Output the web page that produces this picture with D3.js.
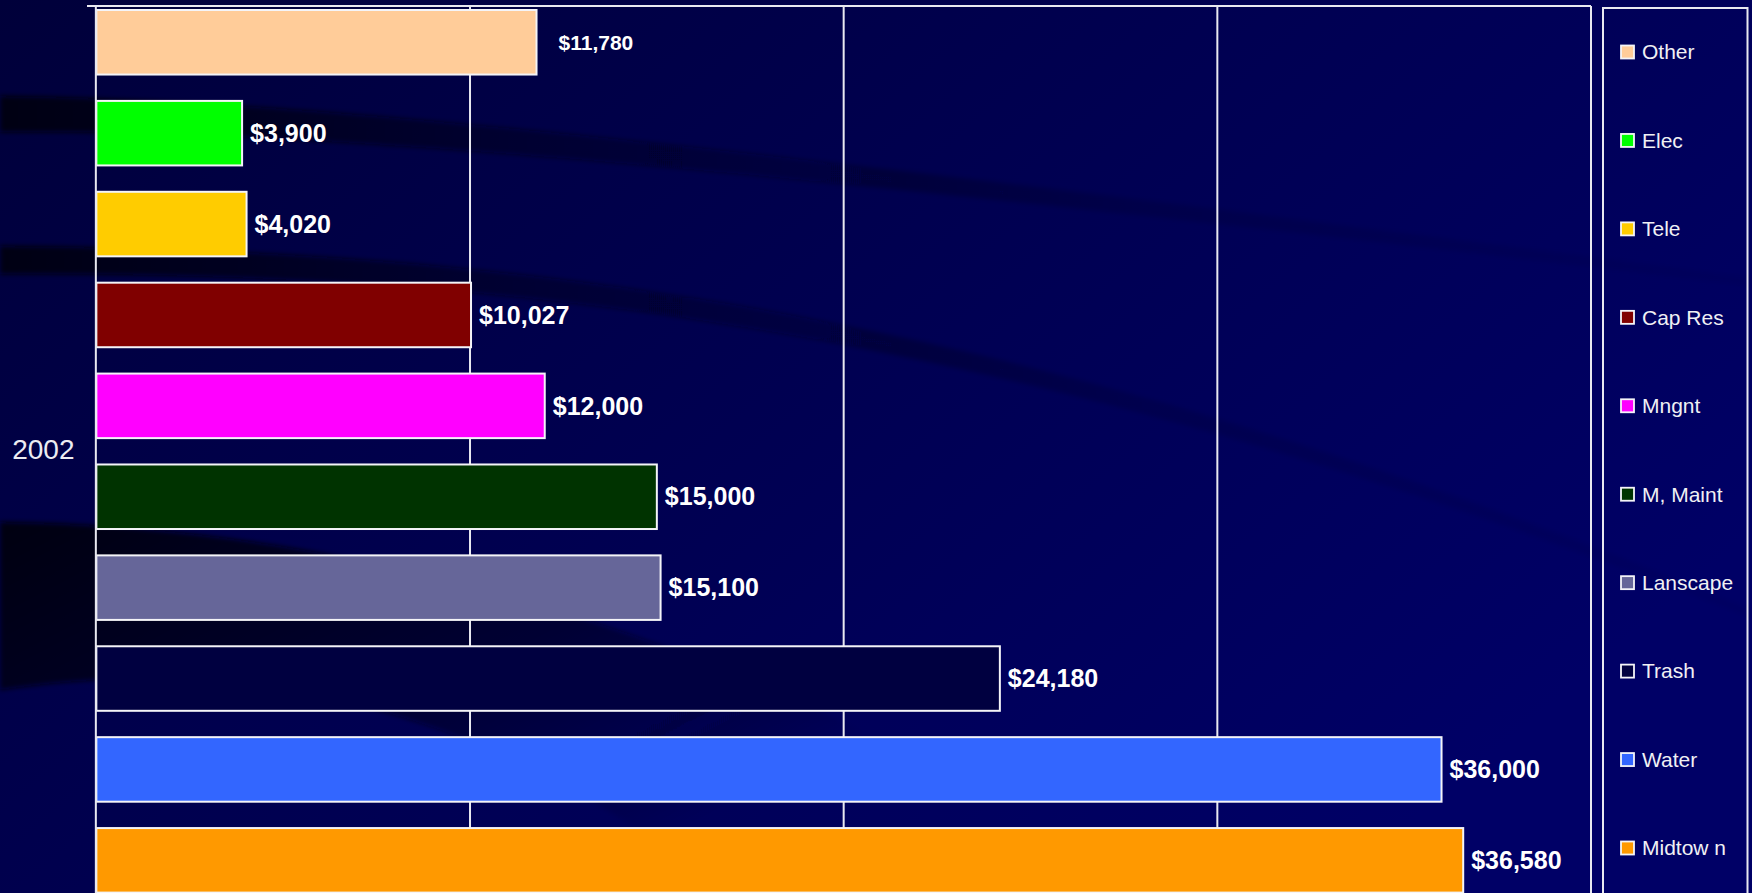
<!DOCTYPE html>
<html>
<head>
<meta charset="utf-8">
<script src="https://cdn.jsdelivr.net/npm/d3@7"></script>
<style>
  html, body { margin: 0; padding: 0; background: #000050; overflow: hidden; }
  svg { display: block; }
</style>
</head>
<body>
<svg id="chart" width="1752" height="893"></svg>
<script>
// ---- data ----
const categories = ["2002"];
const series = ["Other", "Elec", "Tele", "Cap Res", "Mngnt", "M, Maint", "Lanscape", "Trash", "Water", "Midtow n"];
const values = [11780, 3900, 4020, 10027, 12000, 15000, 15100, 24180, 36000, 36580];
const seriesColors = ["#FFCC99", "#00FF00", "#FFCC00", "#800000", "#FF00FF", "#003300", "#666699", "#000040", "#3366FF", "#FF9900"];
const xTicks = [0, 10000, 20000, 30000, 40000];

const W = 1752, H = 893;
const plot = { left: 96, right: 1591, top: 6, bottom: 900 };
const svg = d3.select("#chart");
const defs = svg.append("defs");

// ---- background ----
const bg = defs.append("linearGradient").attr("id", "bgGrad")
  .attr("x1", 0).attr("y1", 0).attr("x2", 1).attr("y2", 0.6);
bg.append("stop").attr("offset", 0).attr("stop-color", "#00003a");
bg.append("stop").attr("offset", 0.45).attr("stop-color", "#00004e");
bg.append("stop").attr("offset", 1).attr("stop-color", "#000066");
svg.append("rect").attr("width", W).attr("height", H).attr("fill", "url(#bgGrad)");

const sw = defs.append("linearGradient").attr("id", "swGrad")
  .attr("x1", 0).attr("y1", 0).attr("x2", 1).attr("y2", 0);
sw.append("stop").attr("offset", 0).attr("stop-color", "#000008").attr("stop-opacity", 0.9);
sw.append("stop").attr("offset", 0.3).attr("stop-color", "#000010").attr("stop-opacity", 0.45);
sw.append("stop").attr("offset", 0.65).attr("stop-color", "#000018").attr("stop-opacity", 0.12);
sw.append("stop").attr("offset", 1).attr("stop-color", "#000020").attr("stop-opacity", 0.04);
const sw2 = defs.append("linearGradient").attr("id", "swGrad2")
  .attr("x1", 0).attr("y1", 0).attr("x2", 0.8).attr("y2", 0.5);
sw2.append("stop").attr("offset", 0).attr("stop-color", "#000008").attr("stop-opacity", 0.95);
sw2.append("stop").attr("offset", 0.6).attr("stop-color", "#000010").attr("stop-opacity", 0.5);
sw2.append("stop").attr("offset", 1).attr("stop-color", "#000020").attr("stop-opacity", 0.0);
defs.append("filter").attr("id", "blur").append("feGaussianBlur").attr("stdDeviation", 2.5);

const swooshes = [
  "M0,96 C300,100 700,140 1752,278 L1752,286 C700,160 300,130 0,132 Z",
  "M0,246 C500,250 1000,300 1752,610 L1752,618 C1000,320 500,272 0,274 Z",
  "M0,522 C300,526 700,600 1150,893 L720,893 C520,720 260,650 0,690 Z"
];
svg.append("g").attr("filter", "url(#blur)").selectAll("path").data(swooshes).join("path")
  .attr("d", d => d)
  .attr("fill", (d, i) => i === 2 ? "url(#swGrad2)" : "url(#swGrad)");

// ---- scales ----
const x = d3.scaleLinear().domain([0, 40000]).range([96.35, plot.right]);
const y = d3.scaleBand().domain(series).range([10, 892.6]).paddingInner(0.29).paddingOuter(0);
const yCat = d3.scaleBand().domain(categories).range([6, 894]);

// ---- gridlines ----
svg.append("g").selectAll("line").data(xTicks.filter(t => t > 0 && t < 40000)).join("line")
  .attr("x1", d => x(d)).attr("x2", d => x(d))
  .attr("y1", plot.top).attr("y2", plot.bottom)
  .attr("stroke", "#e8e8f0").attr("stroke-width", 2);

// ---- bars ----
svg.append("g").selectAll("rect").data(series).join("rect")
  .attr("x", x(0))
  .attr("y", d => y(d))
  .attr("width", (d, i) => x(values[i]) - x(0))
  .attr("height", y.bandwidth())
  .attr("fill", (d, i) => seriesColors[i])
  .attr("stroke", "#f4f4f8").attr("stroke-width", 2);

// ---- plot frame ----
const frame = svg.append("g").attr("stroke", "#e8e8f0").attr("stroke-width", 2).attr("fill", "none");
frame.append("line").attr("x1", 87).attr("x2", plot.right).attr("y1", plot.top).attr("y2", plot.top);
frame.append("line").attr("x1", plot.right).attr("x2", plot.right).attr("y1", plot.top).attr("y2", plot.bottom);
frame.append("line").attr("x1", x(0) - 0.5).attr("x2", x(0) - 0.5).attr("y1", plot.top).attr("y2", plot.bottom);

// ---- category axis ----
const catAxis = svg.append("g").attr("transform", `translate(${x(0)},0)`)
  .call(d3.axisLeft(yCat).tickSize(0).tickPadding(0));
catAxis.select(".domain").remove();
catAxis.selectAll("text")
  .attr("x", -53).attr("text-anchor", "middle")
  .attr("font-family", "Liberation Sans, Arial, sans-serif")
  .attr("font-size", 28).attr("fill", "#ececf2");

// ---- value labels ----
const fmt = d3.format("$,");
svg.append("g").selectAll("text").data(series).join("text")
  .attr("x", (d, i) => x(values[i]) + (i === 0 ? 22 : 8))
  .attr("y", d => y(d) + y.bandwidth() / 2)
  .attr("dy", "0.35em")
  .attr("font-family", "Liberation Sans, Arial, sans-serif")
  .attr("font-weight", "bold")
  .attr("font-size", (d, i) => i === 0 ? 21 : 25)
  .attr("fill", "#ffffff")
  .text((d, i) => fmt(values[i]));

// ---- legend ----
const legend = svg.append("g");
legend.append("rect").attr("x", 1603).attr("y", 8).attr("width", 144.5).attr("height", 900)
  .attr("fill", "none").attr("stroke", "#e8e8f0").attr("stroke-width", 2);
const ly = d3.scalePoint().domain(series).range([52, 848]);
const items = legend.selectAll("g.item").data(series).join("g").attr("class", "item")
  .attr("transform", d => `translate(1621,${ly(d)})`);
items.append("rect").attr("x", 0).attr("y", -6.5).attr("width", 13).attr("height", 13)
  .attr("fill", (d, i) => seriesColors[i]).attr("stroke", "#f4f4f8").attr("stroke-width", 1.8);
items.append("text").attr("x", 21).attr("dy", "0.35em")
  .attr("font-family", "Liberation Sans, Arial, sans-serif")
  .attr("font-size", 21).attr("fill", "#f0f0f4")
  .text(d => d);
</script>
</body>
</html>
